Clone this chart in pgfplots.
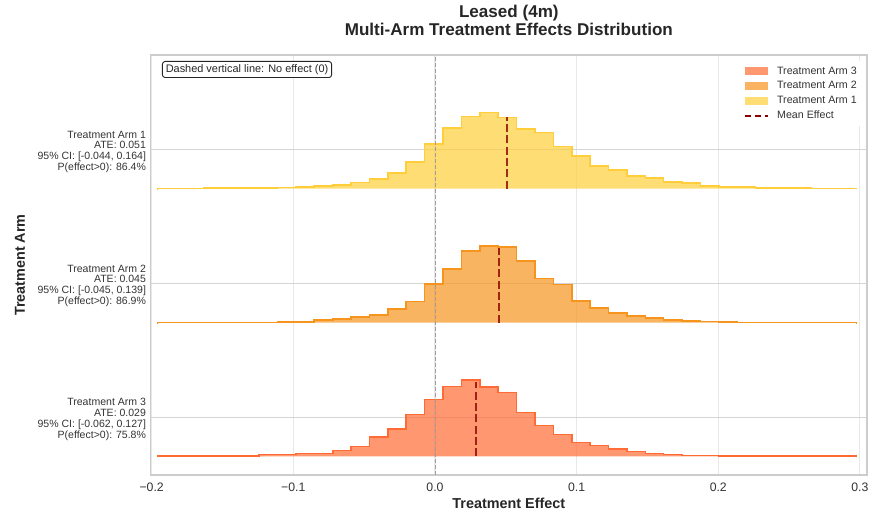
\documentclass[border=0pt]{standalone}
\usepackage{fontspec}
\setmainfont{Liberation Sans}
\usepackage{pgfplots}
\pgfplotsset{compat=1.18}
\usepackage{pgfplotstable}
\definecolor{armone}{HTML}{FFCE3A}
\definecolor{armtwo}{HTML}{F7941E}
\definecolor{armthree}{HTML}{FF6B35}
\definecolor{meanred}{HTML}{8B0000}
\definecolor{txt}{HTML}{333333}

% bin centres and bar heights (heights in axis units; baseline of each arm added in the plot)
\pgfplotstableread{
x        a1    a2    a3
-0.1955  0.0   0.0   0.0
-0.1955  0.2   0.2   0.2
-0.1825  0.2   0.2   0.2
-0.1696  0.2   0.2   0.2
-0.1566  0.7   0.2   0.6
-0.1436  0.7   0.2   0.6
-0.1306  0.7   0.2   0.6
-0.1176  0.7   0.2   1.7
-0.1046  1.3   0.6   1.7
-0.0917  2.0   1.0   3.0
-0.0787  2.7   3.0   3.0
-0.0657  4.0   3.7   6.0
-0.0527  6.3   5.7   9.7
-0.0397  9.7   8.0   19.3
-0.0268  16.0  14.0  27.3
-0.0138  26.7  21.3  42.0
-0.0008  45.0  38.7  56.7
0.0122   60.7  54.0  70.0
0.0252   72.0  71.7  76.3
0.0381   76.3  76.7  69.2
0.0511   71.3  76.0  63.7
0.0641   59.7  62.0  43.7
0.0771   56.3  44.3  30.7
0.0901   42.3  38.3  21.7
0.1030   32.7  21.7  14.0
0.1160   22.7  14.7  10.7
0.1290   19.0  9.7   7.3
0.1420   13.0  7.0   5.0
0.1550   10.7  4.7   2.7
0.1679   6.7   3.0   1.7
0.1809   5.7   2.0   1.0
0.1939   2.7   1.3   1.0
0.2069   2.0   1.0   0.3
0.2199   1.7   0.2   0.3
0.2328   1.0   0.2   0.3
0.2458   0.7   0.2   0.3
0.2588   0.7   0.2   0.3
0.2718   0.3   0.2   0.3
0.2848   0.3   0.2   0.3
0.2977   0.3   0.2   0.3
0.2977   0.0   0.0   0.0
}\hist

\pgfplotsset{
  patchlegend/.style={legend image code/.code={%
    \path[draw=none, fill=#1, fill opacity=0.7] (0cm,-0.095cm) rectangle (0.6cm,0.095cm);
    \path (0.81cm,0cm);}},
  dashlegend/.style={legend image code/.code={%
    \draw[meanred, line width=1.6pt, dash pattern=on 5pt off 2.5pt] (0cm,0cm) -- (0.6cm,0cm);
    \path (0.81cm,0cm);}},
}

\begin{document}
\begin{tikzpicture}
\begin{axis}[
  name=ax,
  scale only axis,
  width=537.2pt, height=315pt,
  xmin=-0.2007, xmax=0.305,
  ymin=-18.7, ymax=401.3,
  axis line style={draw=black!20, line width=1pt},
  xtick={-0.2,-0.1,0,0.1,0.2,0.3},
  xticklabels={−0.2,−0.1,0.0,0.1,0.2,0.3},
  ytick={39,172.6,306.6},
  yticklabels={
    {Treatment Arm 3\\ATE: 0.029\\95\% CI: [-0.062, 0.127]\\P(effect>0): 75.8\%},
    {Treatment Arm 2\\ATE: 0.045\\95\% CI: [-0.045, 0.139]\\P(effect>0): 86.9\%},
    {Treatment Arm 1\\ATE: 0.051\\95\% CI: [-0.044, 0.164]\\P(effect>0): 86.4\%}},
  major tick length=0pt,
  xmajorgrids=true, ymajorgrids=false,
  major grid style={draw=black!9, line width=0.8pt},
  tick label style={text=txt},
  xticklabel style={font=\fontsize{9.2}{11}\selectfont, yshift=-2.5pt},
  yticklabel style={font=\fontsize{7.9}{8.1}\selectfont, align=right, yshift=-1.5pt},
  xlabel={Treatment Effect},
  ylabel={Treatment Arm},
  xlabel style={font=\fontsize{10.8}{12}\selectfont\bfseries, text=black!85,
    at={(axis description cs:0.5,-0.0667)}, anchor=center},
  ylabel style={font=\fontsize{10.8}{12}\selectfont\bfseries, text=black!85,
    at={(axis description cs:-0.1824,0.5)}, anchor=center},
  legend cell align=left,
  legend style={at={(axis description cs:0.9935,0.987)}, anchor=north east,
    draw=none, fill=white, font=\fontsize{8}{9.6}\selectfont, text=txt,
    inner sep=3pt, row sep=1.7pt,
    nodes={inner sep=1pt, text height=6pt, text depth=1.5pt}},
]
% horizontal grid lines at the arm label positions
\addplot[forget plot, draw=black!17, line width=0.9pt] coordinates {(-0.3,39) (0.4,39)};
\addplot[forget plot, draw=black!17, line width=0.9pt] coordinates {(-0.3,172.6) (0.4,172.6)};
\addplot[forget plot, draw=black!17, line width=0.9pt] coordinates {(-0.3,306.6) (0.4,306.6)};

% Arm 1 (baseline 267.6)
\addplot[forget plot, const plot mark mid, draw=none, fill=armone, fill opacity=0.7]
  table[x=x, y expr=\thisrow{a1}+267.6] {\hist} -- cycle;
\addplot[forget plot, const plot mark mid, draw=armone, line width=1.2pt]
  table[x=x, y expr=\thisrow{a1}+267.6] {\hist};
% Arm 2 (baseline 133.6)
\addplot[forget plot, const plot mark mid, draw=none, fill=armtwo, fill opacity=0.7]
  table[x=x, y expr=\thisrow{a2}+133.6] {\hist} -- cycle;
\addplot[forget plot, const plot mark mid, draw=armtwo, line width=1.2pt]
  table[x=x, y expr=\thisrow{a2}+133.6] {\hist};
% Arm 3 (baseline 0)
\addplot[forget plot, const plot mark mid, draw=none, fill=armthree, fill opacity=0.7]
  table[x=x, y=a3] {\hist} -- cycle;
\addplot[forget plot, const plot mark mid, draw=armthree, line width=1.2pt]
  table[x=x, y=a3] {\hist};

% mean effect lines
\addplot[forget plot, draw=meanred, opacity=0.8, line width=1.7pt, dash pattern=on 6pt off 2.5pt]
  coordinates {(0.051,267.6) (0.051,339.3)};
\addplot[forget plot, draw=meanred, opacity=0.8, line width=1.7pt, dash pattern=on 6pt off 2.5pt]
  coordinates {(0.045,133.6) (0.045,208.0)};
\addplot[forget plot, draw=meanred, opacity=0.8, line width=1.7pt, dash pattern=on 6pt off 2.5pt]
  coordinates {(0.029,0) (0.029,74.0)};

% no-effect line
\addplot[forget plot, draw=black!38, line width=0.7pt, dash pattern=on 3pt off 1.5pt]
  coordinates {(0,-18.7) (0,401.3)};

% legend
\addlegendimage{draw=none, patchlegend=armthree}
\addlegendentry{Treatment Arm 3}
\addlegendimage{draw=none, patchlegend=armtwo}
\addlegendentry{Treatment Arm 2}
\addlegendimage{draw=none, patchlegend=armone}
\addlegendentry{Treatment Arm 1}
\addlegendimage{dashlegend}
\addlegendentry{Mean Effect}

% annotation box
\node[anchor=north west, draw=black!85, line width=0.7pt, rounded corners=2pt, fill=white,
  inner xsep=2.5pt, inner ysep=2.2pt, font=\fontsize{8.2}{9.6}\selectfont, text=black!85]
  at (axis description cs:0.0158,0.9857) {Dashed vertical line: No effect (0)};
\end{axis}
\node[anchor=base, font=\fontsize{12.8}{14}\selectfont\bfseries, text=black!85]
  at ([yshift=27.75pt]ax.north) {Leased (4m)};
\node[anchor=base, font=\fontsize{12.8}{14}\selectfont\bfseries, text=black!85]
  at ([yshift=14.25pt]ax.north) {Multi-Arm Treatment Effects Distribution};
\pgfresetboundingbox
\path[use as bounding box] ([shift={(-113pt,-30.75pt)}]ax.south west) rectangle ([shift={(3.75pt,41.25pt)}]ax.north east);
\end{tikzpicture}
\end{document}
